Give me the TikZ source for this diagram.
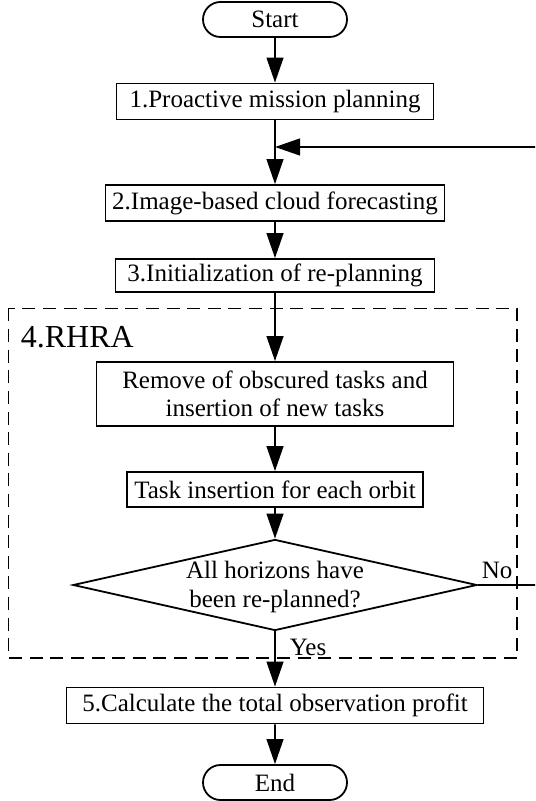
\documentclass[tikz,border=0pt]{standalone}
\usepackage{fontspec}
\setmainfont{Liberation Serif}
\usetikzlibrary{arrows.meta,shapes.geometric,shapes.misc}
\begin{document}
\begin{tikzpicture}[x=0.5pt,y=-0.5pt,line width=0.9pt,>={Triangle[length=12.5pt,width=8.4pt]},
  font=\fontsize{12.5}{14.2}\selectfont,
  term/.style={draw,rounded rectangle,minimum width=72pt,minimum height=17.5pt,inner sep=0pt},
  proc/.style={draw,rectangle,minimum height=18pt,inner sep=0pt,align=center},
  decision/.style={draw,diamond,minimum width=202pt,minimum height=45.5pt,inner sep=0pt},
  group/.style={draw,dash pattern=on 6.5pt off 3.8pt}]
\def \cx{275};
\useasboundingbox (0,0) rectangle (535,801);
\clip (0,0) rectangle (535,801);
% main column
\node[term] (start) at (\cx,19.5) {Start};
\node[proc,minimum width=158.5pt] (p1) at (\cx,101.5) {1.Proactive mission planning};
\node[proc,minimum width=169.5pt] (p2) at (\cx,203) {2.Image-based cloud forecasting};
\node[proc,minimum width=159.5pt,minimum height=16.5pt] (p3) at (\cx,275.5) {3.Initialization of re-planning};
% RHRA block
\draw[group] (8.5,308.5) rectangle (517,658);
\node[anchor=base west,inner sep=0pt,font=\fontsize{16}{18}\selectfont] (rhra) at (20,348) {4.RHRA};
\node[proc,minimum width=178.5pt,minimum height=32pt] (remove) at (\cx,394) {Remove of obscured tasks and\\insertion of new tasks};
\node[proc,minimum width=148pt,minimum height=17.5pt] (orbit) at (\cx,489.5) {Task insertion for each orbit};
\node[decision] (dec) at (\cx,585) {};
\node[align=center,inner sep=0pt] (dectext) at (\cx,587) {All horizons have\\been re-planned?};
\node[anchor=base west,inner sep=0pt] (no) at (481,578) {No};
\node[anchor=base west,inner sep=0pt] (yes) at (289,655) {Yes};
% end
\node[proc,minimum width=208.5pt] (p5) at (\cx,705.5) {5.Calculate the total observation profit};
\node[term] (end) at (\cx,782.5) {End};
% connectors
\foreach \a/\b in {start/p1,p1/p2,p2/p3,p3/remove,remove/orbit,orbit/dec,dec/p5,p5/end}
  \draw[->] (\a) -- (\b);
\coordinate (merge) at (\cx,147);
\coordinate (back) at (560,147);
\draw[->] (dec.east) -| (back) -- (merge);
\end{tikzpicture}
\end{document}
